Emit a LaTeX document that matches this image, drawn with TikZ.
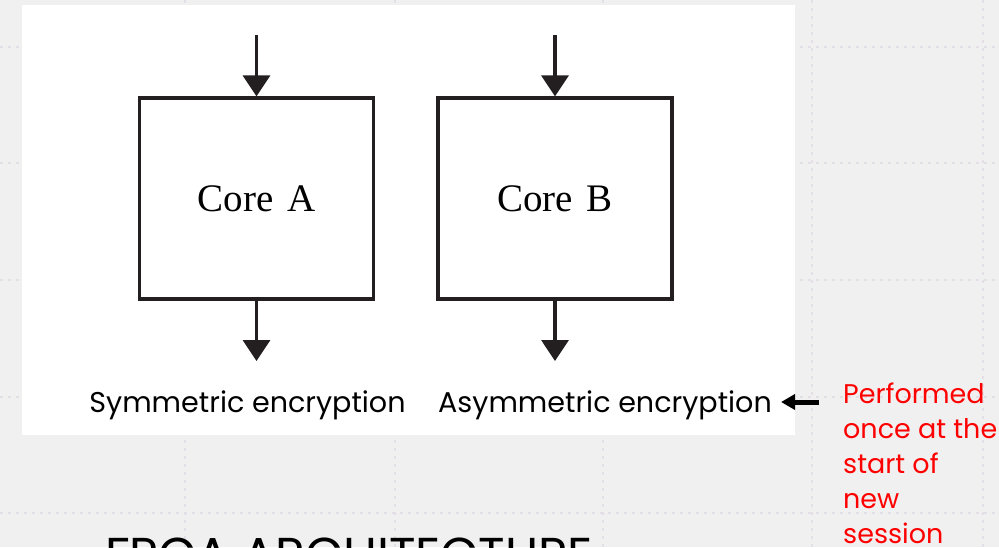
\documentclass[tikz,border=0pt]{standalone}
\usepackage{fontspec}
\setmainfont{Liberation Serif}
\newfontfamily\gothic{Poppins}
\usetikzlibrary{arrows.meta}
\definecolor{bg}{HTML}{F0F0F0}
\definecolor{gridc}{HTML}{E4DEE6}
\definecolor{ink}{HTML}{231F20}
\begin{document}
\begin{tikzpicture}[x=1pt,y=-1pt,
  gridline/.style={gridc,line width=2.4pt,dash pattern=on 2.6pt off 5.4pt},
  core/.style={draw=ink,line width=3.2pt,minimum width=234pt,minimum height=201pt,inner sep=0pt,font=\fontsize{39}{41}\selectfont},
  flow/.style={ink,line width=3.2pt,-{Triangle[width=27pt,length=21pt]}},
  lbl/.style={font=\gothic\fontsize{28.6}{30}\selectfont,inner sep=0pt,text=black,anchor=base},
  note/.style={font=\gothic\fontsize{27}{35}\selectfont,inner sep=0pt,text=red,align=left,anchor=base west},
  pointer/.style={black,line width=5pt,-{Triangle[width=15pt,length=14pt]}},
  title/.style={font=\gothic\fontsize{49}{51}\selectfont,inner sep=0pt,text=black,anchor=base west},
]
\useasboundingbox (0,0) rectangle (999,547);
\clip (0,0) rectangle (999,547);
\fill[bg] (0,0) rectangle (999,547);
% grid
\foreach \yy in {47,163,280,397,513} \draw[gridline] (0,\yy) -- (999,\yy);
\foreach \xx in {185,395,603,812,983} \draw[gridline] (\xx,0) -- (\xx,547);
% white panel
\fill[white] (22,5) rectangle (795,435);
% cores
\node[core] (A) at (256.5,198.5) {Core\hspace{0.35em}A};
\node[core] (B) at (555,198.5) {Core\hspace{0.35em}B};
\coordinate (ainA) at (256.5,35);
\coordinate (ainB) at (555,35);
\coordinate (aoutA) at (256.5,361);
\coordinate (aoutB) at (555,361);
\draw[flow] (ainA) -- (A.north);
\draw[flow] (ainB) -- (B.north);
\draw[flow] (A.south) -- (aoutA);
\draw[flow] (B.south) -- (aoutB);
% labels
\node[lbl] (sym) at (247.5,412) {Symmetric encryption};
\node[lbl] (asym) at (605,412) {Asymmetric encryption};
\coordinate (ptail) at (819,402);
\draw[pointer] (ptail) -- ([xshift=9pt]asym.east |- ptail);
\node[note] (perf) at (843,543) {Performed\\once at the\\start of\\new\\session};
\node[title] (fpga) at (105,572) {FPGA ARCHITECTURE};
\end{tikzpicture}
\end{document}
